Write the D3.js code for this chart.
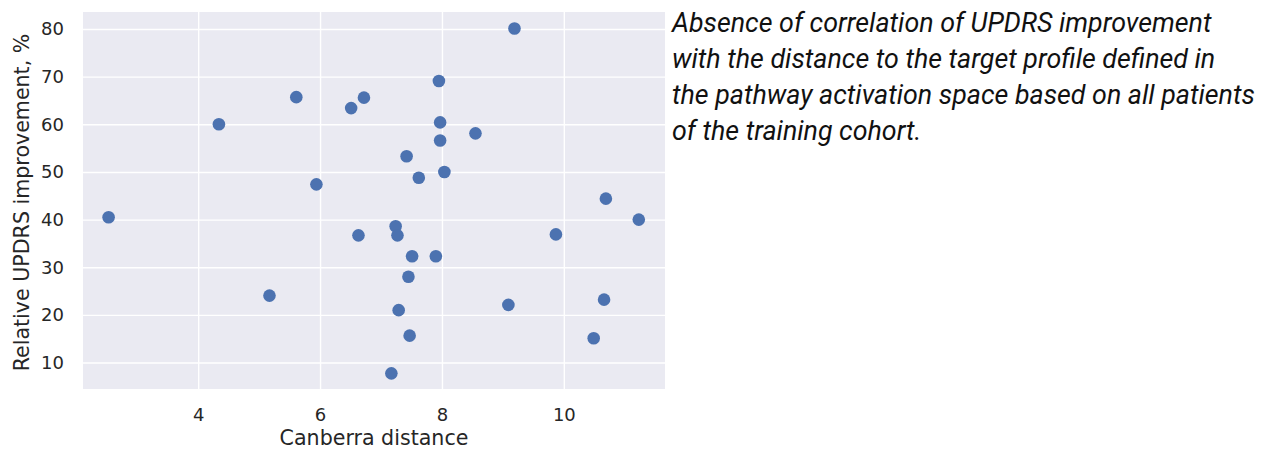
<!DOCTYPE html>
<html><head><meta charset="utf-8">
<script src="https://cdn.jsdelivr.net/npm/d3@7"></script>
<style>body{margin:0;background:#fff}svg{display:block}</style>
</head><body><svg id="c" width="1271" height="452"></svg>
<script>
const distance = [2.53,4.34,5.61,5.94,6.51,6.72,7.42,7.62,7.95,7.97,7.97,8.04,8.55,9.19,10.69,11.23,9.87,6.63,7.24,7.27,7.51,7.90,7.45,7.29,7.47,7.17,5.17,9.09,10.66,10.49];
const improvement = [40.5,60.0,65.7,47.4,63.4,65.6,53.3,48.8,69.1,60.4,56.6,50.0,58.1,80.1,44.4,40.0,36.9,36.7,38.6,36.7,32.3,32.3,28.0,21.0,15.65,7.73,24.05,22.1,23.2,15.1];
const xTicks = [4,6,8,10];
const yTicks = [10,20,30,40,50,60,70,80];
const xLabel = "Canberra distance";
const yLabel = "Relative UPDRS improvement, %";
const captionLines = ["Absence of correlation of UPDRS improvement","with the distance to the target profile defined in","the pathway activation space based on all patients","of the training cohort."];

const svg = d3.select("#c");
const L=83,R=665,T=12,B=389;
const x = d3.scaleLinear().domain([2.11,11.66]).range([L,R]);
const y = d3.scaleLinear().domain([4.45,83.57]).range([B,T]);
svg.append("rect").attr("x",L).attr("y",T).attr("width",R-L).attr("height",B-T).attr("fill","#eaeaf2");
const gx = svg.append("g").attr("transform",`translate(0,${B})`)
  .call(d3.axisBottom(x).tickValues(xTicks).tickSize(-(B-T)).tickPadding(19).tickFormat(d3.format("d")));
const gy = svg.append("g").attr("transform",`translate(${L},0)`)
  .call(d3.axisLeft(y).tickValues(yTicks).tickSize(-(R-L)).tickPadding(19).tickFormat(d3.format("d")));
[gx,gy].forEach(g=>{
  g.select(".domain").remove();
  g.selectAll(".tick line").attr("stroke","#fff").attr("stroke-width",1.4);
  g.selectAll(".tick text").attr("fill","#262626").style("font-family","DejaVu Sans").style("font-size","18px");
});
svg.append("g").selectAll("circle").data(distance).join("circle")
  .attr("cx",d=>x(d)).attr("cy",(d,i)=>y(improvement[i])).attr("r",6.3).attr("fill","#4c72b0");
svg.append("text").attr("x",(L+R)/2).attr("y",445).attr("text-anchor","middle")
  .attr("fill","#262626").style("font-family","DejaVu Sans").style("font-size","20.6px").text(xLabel);
svg.append("text").attr("transform",`translate(29,${(T+B)/2+2}) rotate(-90)`).attr("text-anchor","middle")
  .attr("fill","#262626").style("font-family","DejaVu Sans").style("font-size","20.6px").text(yLabel);
const cap = svg.append("text").attr("fill","#111").style("font-family","Roboto").style("font-style","italic").style("font-size","26.8px");
captionLines.forEach((s,i)=>cap.append("tspan").attr("x",672).attr("y",31.5+i*36).text(s));
</script></body></html>
